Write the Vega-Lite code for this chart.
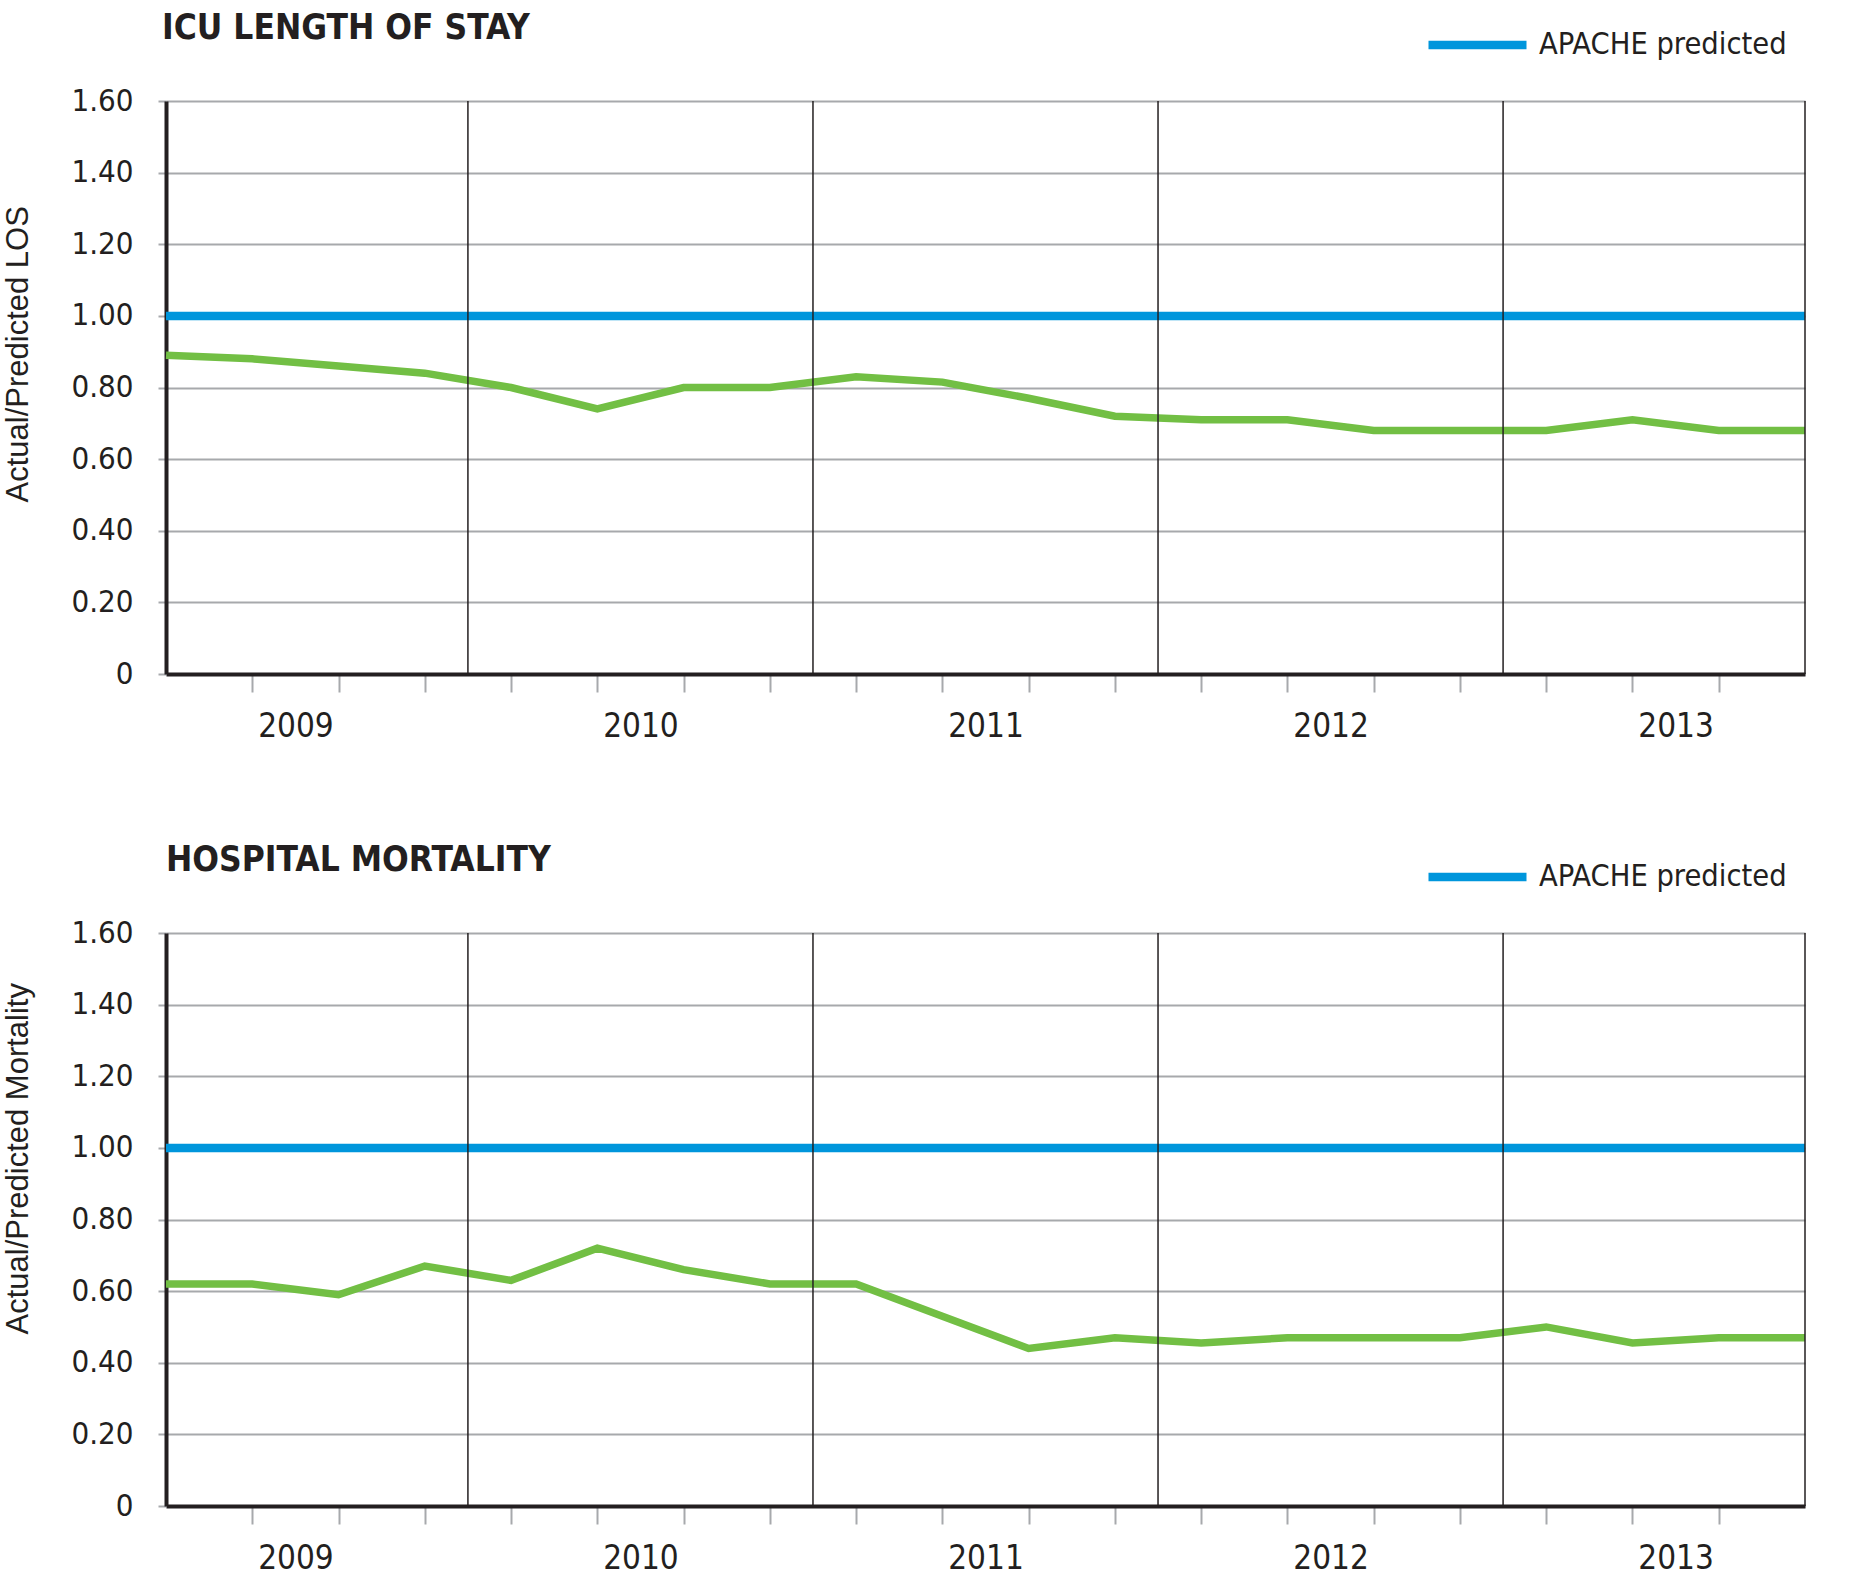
{
  "$schema": "https://vega.github.io/schema/vega-lite/v6.json",
  "background": "white",
  "padding": {"left": 2, "top": 11, "right": 20, "bottom": 10},
  "spacing": 100,
  "config": {
    "view": {"stroke": null},
    "font": "DejaVu Sans Condensed, Roboto, sans-serif"
  },
  "datasets": {
    "los": [
      {"period": "2009 Q1", "q": 0, "ratio": 0.89},
      {"period": "2009 Q2", "q": 1, "ratio": 0.88},
      {"period": "2009 Q3", "q": 2, "ratio": 0.86},
      {"period": "2009 Q4", "q": 3, "ratio": 0.84},
      {"period": "2010 Q1", "q": 4, "ratio": 0.80},
      {"period": "2010 Q2", "q": 5, "ratio": 0.74},
      {"period": "2010 Q3", "q": 6, "ratio": 0.80},
      {"period": "2010 Q4", "q": 7, "ratio": 0.80},
      {"period": "2011 Q1", "q": 8, "ratio": 0.83},
      {"period": "2011 Q2", "q": 9, "ratio": 0.815},
      {"period": "2011 Q3", "q": 10, "ratio": 0.77},
      {"period": "2011 Q4", "q": 11, "ratio": 0.72},
      {"period": "2012 Q1", "q": 12, "ratio": 0.71},
      {"period": "2012 Q2", "q": 13, "ratio": 0.71},
      {"period": "2012 Q3", "q": 14, "ratio": 0.68},
      {"period": "2012 Q4", "q": 15, "ratio": 0.68},
      {"period": "2013 Q1", "q": 16, "ratio": 0.68},
      {"period": "2013 Q2", "q": 17, "ratio": 0.71},
      {"period": "2013 Q3", "q": 18, "ratio": 0.68},
      {"period": "2013 Q4", "q": 19, "ratio": 0.68}
    ],
    "mort": [
      {"period": "2009 Q1", "q": 0, "ratio": 0.62},
      {"period": "2009 Q2", "q": 1, "ratio": 0.62},
      {"period": "2009 Q3", "q": 2, "ratio": 0.59},
      {"period": "2009 Q4", "q": 3, "ratio": 0.67},
      {"period": "2010 Q1", "q": 4, "ratio": 0.63},
      {"period": "2010 Q2", "q": 5, "ratio": 0.72},
      {"period": "2010 Q3", "q": 6, "ratio": 0.66},
      {"period": "2010 Q4", "q": 7, "ratio": 0.62},
      {"period": "2011 Q1", "q": 8, "ratio": 0.62},
      {"period": "2011 Q2", "q": 9, "ratio": 0.53},
      {"period": "2011 Q3", "q": 10, "ratio": 0.44},
      {"period": "2011 Q4", "q": 11, "ratio": 0.47},
      {"period": "2012 Q1", "q": 12, "ratio": 0.455},
      {"period": "2012 Q2", "q": 13, "ratio": 0.47},
      {"period": "2012 Q3", "q": 14, "ratio": 0.47},
      {"period": "2012 Q4", "q": 15, "ratio": 0.47},
      {"period": "2013 Q1", "q": 16, "ratio": 0.50},
      {"period": "2013 Q2", "q": 17, "ratio": 0.455},
      {"period": "2013 Q3", "q": 18, "ratio": 0.47},
      {"period": "2013 Q4", "q": 19, "ratio": 0.47}
    ],
    "apache": [
      {"series": "APACHE predicted", "q": 0, "ratio": 1},
      {"series": "APACHE predicted", "q": 1, "ratio": 1},
      {"series": "APACHE predicted", "q": 2, "ratio": 1},
      {"series": "APACHE predicted", "q": 3, "ratio": 1},
      {"series": "APACHE predicted", "q": 4, "ratio": 1},
      {"series": "APACHE predicted", "q": 5, "ratio": 1},
      {"series": "APACHE predicted", "q": 6, "ratio": 1},
      {"series": "APACHE predicted", "q": 7, "ratio": 1},
      {"series": "APACHE predicted", "q": 8, "ratio": 1},
      {"series": "APACHE predicted", "q": 9, "ratio": 1},
      {"series": "APACHE predicted", "q": 10, "ratio": 1},
      {"series": "APACHE predicted", "q": 11, "ratio": 1},
      {"series": "APACHE predicted", "q": 12, "ratio": 1},
      {"series": "APACHE predicted", "q": 13, "ratio": 1},
      {"series": "APACHE predicted", "q": 14, "ratio": 1},
      {"series": "APACHE predicted", "q": 15, "ratio": 1},
      {"series": "APACHE predicted", "q": 16, "ratio": 1},
      {"series": "APACHE predicted", "q": 17, "ratio": 1},
      {"series": "APACHE predicted", "q": 18, "ratio": 1},
      {"series": "APACHE predicted", "q": 19, "ratio": 1}
    ],
    "dividers": [
      {"boundary": "2009/2010", "q": 3.5},
      {"boundary": "2010/2011", "q": 7.5},
      {"boundary": "2011/2012", "q": 11.5},
      {"boundary": "2012/2013", "q": 15.5},
      {"boundary": "end", "q": 19}
    ]
  },
  "vconcat": [
    {
      "title": {"text": "ICU LENGTH OF STAY", "anchor": "start", "frame": "group", "font": "DejaVu Sans Condensed, Roboto, sans-serif", "fontWeight": "bold", "fontSize": 35, "color": "#231f20", "offset": -21, "dx": -4},
      "width": 1639,
      "height": 573,
      "layer": [
        {
          "data": {"name": "apache"},
          "mark": {"type": "line", "strokeWidth": 8.5},
          "encoding": {
            "x": {"field": "q", "type": "quantitative", "scale": {"domain": [0, 19], "nice": false, "zero": false},
              "axis": {"title": null, "values": [1, 2, 3, 4, 5, 6, 7, 8, 9, 10, 11, 12, 13, 14, 15, 16, 17, 18, 1.5, 5.5, 9.5, 13.5, 17.5],
                "labelExpr": "datum.value === 1.5 ? '2009' : datum.value === 5.5 ? '2010' : datum.value === 9.5 ? '2011' : datum.value === 13.5 ? '2012' : datum.value === 17.5 ? '2013' : ''",
                "grid": false, "domainColor": "#231f20", "domainWidth": 4, "tickColor": "#a7a9ac", "tickSize": 18, "tickWidth": 2,
                "tickOpacity": {"condition": {"test": "datum.value % 1 === 0", "value": 1}, "value": 0},
                "labelFont": "DejaVu Sans Condensed, Roboto, sans-serif", "labelFontSize": 33, "labelColor": "#231f20", "labelPadding": 18,
                "labelOverlap": false, "labelFlush": false, "labelBound": false}},
            "y": {"field": "ratio", "type": "quantitative", "scale": {"domain": [0, 1.6], "nice": false},
              "axis": {"title": "Actual/Predicted LOS", "values": [0, 0.2, 0.4, 0.6, 0.8, 1.0, 1.2, 1.4, 1.6],
                "labelExpr": "datum.value === 0 ? '0' : format(datum.value, '.2f')",
                "grid": true, "gridColor": "#a7a9ac", "gridWidth": 2, "domainColor": "#231f20", "domainWidth": 4,
                "tickColor": "#a7a9ac", "tickSize": 8, "tickWidth": 2,
                "labelFont": "DejaVu Sans Condensed, Roboto, sans-serif", "labelFontSize": 31, "labelColor": "#231f20", "labelPadding": 25,
                "titleFont": "Liberation Sans", "titleFontSize": 31, "titleFontWeight": "normal", "titleColor": "#231f20", "titlePadding": 36,
                "titleY": 401, "titleAlign": "left"}},
            "color": {"field": "series", "type": "nominal", "scale": {"domain": ["APACHE predicted"], "range": ["#0096dc"]},
              "legend": {"orient": "none", "legendX": 1258, "legendY": -76, "title": null, "symbolType": "stroke", "symbolSize": 9604, "symbolStrokeWidth": 8.5, "clipHeight": 40,
                "labelFont": "DejaVu Sans Condensed, Roboto, sans-serif", "labelFontSize": 30.5, "labelColor": "#231f20", "labelOffset": 8, "labelLimit": 500}}
          }
        },
        {
          "data": {"name": "los"},
          "mark": {"type": "line", "color": "#72bf44", "strokeWidth": 7.5},
          "encoding": {
            "x": {"field": "q", "type": "quantitative"},
            "y": {"field": "ratio", "type": "quantitative"}
          }
        },
        {
          "data": {"name": "dividers"},
          "mark": {"type": "rule", "color": "#231f20", "strokeWidth": 1.5},
          "encoding": {
            "x": {"field": "q", "type": "quantitative"}
          }
        }
      ]
    },
    {
      "title": {"text": "HOSPITAL MORTALITY", "anchor": "start", "frame": "group", "font": "DejaVu Sans Condensed, Roboto, sans-serif", "fontWeight": "bold", "fontSize": 35, "color": "#231f20", "offset": -21, "dx": 0},
      "width": 1639,
      "height": 573,
      "layer": [
        {
          "data": {"name": "apache"},
          "mark": {"type": "line", "strokeWidth": 8.5},
          "encoding": {
            "x": {"field": "q", "type": "quantitative", "scale": {"domain": [0, 19], "nice": false, "zero": false},
              "axis": {"title": null, "values": [1, 2, 3, 4, 5, 6, 7, 8, 9, 10, 11, 12, 13, 14, 15, 16, 17, 18, 1.5, 5.5, 9.5, 13.5, 17.5],
                "labelExpr": "datum.value === 1.5 ? '2009' : datum.value === 5.5 ? '2010' : datum.value === 9.5 ? '2011' : datum.value === 13.5 ? '2012' : datum.value === 17.5 ? '2013' : ''",
                "grid": false, "domainColor": "#231f20", "domainWidth": 4, "tickColor": "#a7a9ac", "tickSize": 18, "tickWidth": 2,
                "tickOpacity": {"condition": {"test": "datum.value % 1 === 0", "value": 1}, "value": 0},
                "labelFont": "DejaVu Sans Condensed, Roboto, sans-serif", "labelFontSize": 33, "labelColor": "#231f20", "labelPadding": 18,
                "labelOverlap": false, "labelFlush": false, "labelBound": false}},
            "y": {"field": "ratio", "type": "quantitative", "scale": {"domain": [0, 1.6], "nice": false},
              "axis": {"title": "Actual/Predicted Mortality", "values": [0, 0.2, 0.4, 0.6, 0.8, 1.0, 1.2, 1.4, 1.6],
                "labelExpr": "datum.value === 0 ? '0' : format(datum.value, '.2f')",
                "grid": true, "gridColor": "#a7a9ac", "gridWidth": 2, "domainColor": "#231f20", "domainWidth": 4,
                "tickColor": "#a7a9ac", "tickSize": 8, "tickWidth": 2,
                "labelFont": "DejaVu Sans Condensed, Roboto, sans-serif", "labelFontSize": 31, "labelColor": "#231f20", "labelPadding": 25,
                "titleFont": "Liberation Sans", "titleFontSize": 31, "titleFontWeight": "normal", "titleColor": "#231f20", "titlePadding": 36,
                "titleY": 401, "titleAlign": "left"}},
            "color": {"field": "series", "type": "nominal", "scale": {"domain": ["APACHE predicted"], "range": ["#0096dc"]},
              "legend": {"orient": "none", "legendX": 1258, "legendY": -76, "title": null, "symbolType": "stroke", "symbolSize": 9604, "symbolStrokeWidth": 8.5, "clipHeight": 40,
                "labelFont": "DejaVu Sans Condensed, Roboto, sans-serif", "labelFontSize": 30.5, "labelColor": "#231f20", "labelOffset": 8, "labelLimit": 500}}
          }
        },
        {
          "data": {"name": "mort"},
          "mark": {"type": "line", "color": "#72bf44", "strokeWidth": 7.5},
          "encoding": {
            "x": {"field": "q", "type": "quantitative"},
            "y": {"field": "ratio", "type": "quantitative"}
          }
        },
        {
          "data": {"name": "dividers"},
          "mark": {"type": "rule", "color": "#231f20", "strokeWidth": 1.5},
          "encoding": {
            "x": {"field": "q", "type": "quantitative"}
          }
        }
      ]
    }
  ],
  "resolve": {"scale": {"color": "independent"}, "legend": {"color": "independent"}}
}
